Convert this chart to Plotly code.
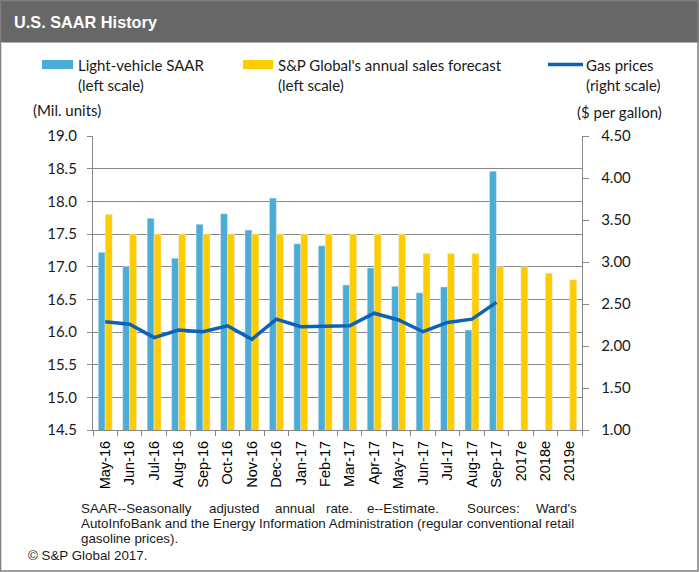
import plotly.graph_objects as go

categories = ["May-16", "Jun-16", "Jul-16", "Aug-16", "Sep-16", "Oct-16", "Nov-16", "Dec-16",
              "Jan-17", "Feb-17", "Mar-17", "Apr-17", "May-17", "Jun-17", "Jul-17", "Aug-17",
              "Sep-17", "2017e", "2018e", "2019e"]
saar = [17.22, 17.0, 17.74, 17.13, 17.65, 17.81, 17.56, 18.05, 17.35, 17.32,
        16.72, 16.98, 16.70, 16.60, 16.69, 16.03, 18.46, None, None, None]
forecast = [17.8, 17.5, 17.5, 17.5, 17.5, 17.5, 17.5, 17.5, 17.5, 17.5,
            17.5, 17.5, 17.5, 17.2, 17.2, 17.2, 17.0, 17.0, 16.9, 16.8]
gas = [2.29, 2.26, 2.10, 2.19, 2.17, 2.24, 2.08, 2.32, 2.23, 2.24,
       2.24, 2.39, 2.31, 2.17, 2.28, 2.32, 2.52, None, None, None]

W, H = 699, 572
PL, PR, PT, PB = 93, 582, 136, 430


def px(x):
    return (x - PL) / (PR - PL)


def py(y):
    return (PB - y) / (PB - PT)


BLUE = "#4BACD6"
YELLOW = "#FFCC00"
LINE = "#0B62B8"
GRID = "#878787"
CAL = "Lato, 'Open Sans', sans-serif"
ARIAL = "'Liberation Sans', Arial, sans-serif"

fig = go.Figure()
fig.add_trace(go.Bar(x=categories, y=saar, marker_color=BLUE, name="Light-vehicle SAAR",
                     yaxis="y", showlegend=False))
fig.add_trace(go.Bar(x=categories, y=forecast, marker_color=YELLOW,
                     name="S&P Global's annual sales forecast", yaxis="y", showlegend=False))
fig.add_trace(go.Scatter(x=categories, y=gas, mode="lines", line=dict(color=LINE, width=3.5),
                         name="Gas prices", yaxis="y2", showlegend=False, connectgaps=False))

shapes = []
annotations = []

# header
shapes.append(dict(type="rect", xref="paper", yref="paper", x0=px(0), x1=px(W), y0=py(0), y1=py(42.5),
                   fillcolor="#676767", line=dict(width=0), layer="below"))
# border
shapes.append(dict(type="rect", xref="paper", yref="paper", x0=px(0.5), x1=px(W - 1), y0=py(0.5), y1=py(H - 1),
                   fillcolor="rgba(0,0,0,0)", line=dict(color="#7F7F7F", width=1.5)))
annotations.append(dict(text="<b>U.S. SAAR History</b>", x=px(12), y=py(22), xref="paper", yref="paper",
                        xanchor="left", yanchor="middle", showarrow=False,
                        font=dict(family=ARIAL, size=16.3, color="white")))

# legend
shapes.append(dict(type="rect", xref="paper", yref="paper", x0=px(42), x1=px(73), y0=py(60), y1=py(69),
                   fillcolor=BLUE, line=dict(width=0)))
shapes.append(dict(type="rect", xref="paper", yref="paper", x0=px(243), x1=px(273), y0=py(60), y1=py(69),
                   fillcolor=YELLOW, line=dict(width=0)))
shapes.append(dict(type="line", xref="paper", yref="paper", x0=px(548), x1=px(583), y0=py(64.5), y1=py(64.5),
                   line=dict(color=LINE, width=3.5)))


def leg(text, x, y, anchor="left"):
    annotations.append(dict(text=text, x=px(x), y=py(y), xref="paper", yref="paper",
                            xanchor=anchor, yanchor="middle", showarrow=False,
                            font=dict(family=CAL, size=15, color="#1a1a1a")))


leg("Light-vehicle SAAR", 76, 65)
leg("(left scale)", 76, 85)
leg("S&P Global's annual sales forecast", 276, 65)
leg("(left scale)", 276, 85)
leg("Gas prices", 584, 65)
leg("(right scale)", 584, 85)
leg("(Mil. units)", 31, 110)
leg("($ per gallon)", 664, 112, anchor="right")


# footer
def foot(text, x, y, size=13.35):
    annotations.append(dict(text=text, x=px(x), y=py(y), xref="paper", yref="paper",
                            xanchor="left", yanchor="middle", showarrow=False,
                            font=dict(family=ARIAL, size=size, color="#1a1a1a")))


line1_words = ["SAAR--Seasonally", "adjusted", "annual", "rate.", "e--Estimate.", "Sources:", "Ward's"]
line1_x = [79, 207, 273, 324, 365, 465, 534]
for wtxt, wx in zip(line1_words, line1_x):
    foot(wtxt, wx, 508)
foot("AutoInfoBank and the Energy Information Administration (regular conventional retail", 79, 523)
foot("gasoline prices).", 79, 538)
foot("© S&P Global 2017.", 26, 555)

fig.update_layout(
    width=W, height=H,
    margin=dict(l=PL, r=W - PR, t=PT, b=H - PB, pad=0),
    paper_bgcolor="white", plot_bgcolor="white",
    barmode="group", bargap=0.43, bargroupgap=0,
    shapes=shapes, annotations=annotations,
    xaxis=dict(type="category", tickangle=-90, showgrid=False, showline=True, linecolor=GRID, linewidth=1.3,
               ticks="outside", tickson="boundaries", ticklen=5, tickcolor=GRID, tickwidth=1.3,
               tickfont=dict(family=ARIAL, size=14.5, color="black"), ticklabelstandoff=4),
    yaxis=dict(range=[14.5, 19.0], dtick=0.5, tick0=14.5, tickformat=".1f", showgrid=True, gridcolor=GRID,
               gridwidth=1.3, showline=True, linecolor=GRID, linewidth=1.3, ticks="outside", ticklen=5,
               tickcolor=GRID, tickwidth=1.3, zeroline=False,
               tickfont=dict(family=CAL, size=15, color="#1a1a1a"), ticklabelstandoff=7),
    yaxis2=dict(range=[1.0, 4.5], dtick=0.5, tick0=1.0, tickformat=".2f", overlaying="y", side="right",
                showgrid=False, showline=True, linecolor=GRID, linewidth=1.3, ticks="outside", ticklen=6,
                tickcolor=GRID, tickwidth=1.3, zeroline=False,
                tickfont=dict(family=CAL, size=15, color="#1a1a1a"), ticklabelstandoff=9),
)

fig.write_html("out.html")
